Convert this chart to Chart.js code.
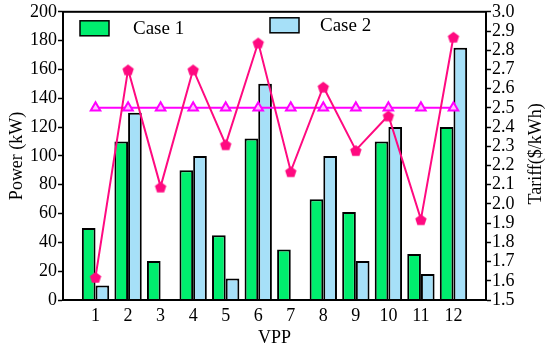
<!DOCTYPE html>
<html>
<head>
<meta charset="utf-8">
<script src="https://cdn.jsdelivr.net/npm/chart.js@4/dist/chart.umd.min.js"></script>
<style>
  html, body { margin: 0; padding: 0; background: #fff; }
  #wrap { width: 550px; height: 351px; position: relative; }
</style>
</head>
<body>
<div id="wrap"><canvas id="chart"></canvas></div>
<script>
// VPP 1..12, padded with empty slots at each end
const vppLabels = ['', '1', '2', '3', '4', '5', '6', '7', '8', '9', '10', '11', '12', ''];
const case1Power = [null, 50, 110, 27, 90, 45, 112, 35, 70, 61, 110, 32, 120, null];
const case2Power = [null, 10, 130, 0, 100, 15, 150, 0, 100, 27, 120, 18, 175, null];
const tariffVPP  = [null, 1.62, 2.70, 2.09, 2.70, 2.31, 2.84, 2.17, 2.61, 2.28, 2.46, 1.92, 2.87, null];
const tariffFlat = [null, 2.5, 2.5, 2.5, 2.5, 2.5, 2.5, 2.5, 2.5, 2.5, 2.5, 2.5, 2.5, null];
const powerTicks = [0, 200, 20];
const tariffTicks = [1.5, 3.0, 0.1];

const FONT = 'Liberation Serif, DejaVu Serif, serif';
const GREEN = '#00ee6e';
const BLUE = '#a6e0f8';
const PINK = '#ff0a80';
const MAGENTA = '#ff00ff';

// pentagon marker (Chart.js has no built-in one)
function pentagon(color, r) {
    const c = document.createElement('canvas');
    const s = r * 2 + 2;
    c.width = s; c.height = s;
    const g = c.getContext('2d');
    g.fillStyle = color;
    g.beginPath();
    for (let i = 0; i < 5; i++) {
        const a = -Math.PI / 2 + i * 2 * Math.PI / 5;
        const x = s / 2 + r * Math.cos(a);
        const y = s / 2 + 1 + r * Math.sin(a);
        i === 0 ? g.moveTo(x, y) : g.lineTo(x, y);
    }
    g.closePath();
    g.fill();
    return c;
}

// frame, legend boxes, right-hand title
const decor = {
    id: 'decor',
    afterDraw(chart) {
        const { ctx, chartArea: a } = chart;
        ctx.save();
        ctx.strokeStyle = '#000';
        ctx.lineWidth = 2;
        ctx.strokeRect(a.left, a.top, a.right - a.left, a.bottom - a.top);

        const items = [
            { label: 'Case 1', color: GREEN, x: a.left + 17, y: a.top + 9, tx: a.left + 70 },
            { label: 'Case 2', color: BLUE, x: a.left + 207, y: a.top + 6, tx: a.left + 257 }
        ];
        ctx.font = '19px ' + FONT;
        ctx.textBaseline = 'middle';
        ctx.fillStyle = '#000';
        items.forEach(it => {
            ctx.fillStyle = it.color;
            ctx.fillRect(it.x, it.y, 29, 15);
            ctx.lineWidth = 1.5;
            ctx.strokeRect(it.x, it.y, 29, 15);
            ctx.fillStyle = '#000';
            ctx.fillText(it.label, it.tx, it.y + 8);
        });

        ctx.translate(536, (a.top + a.bottom) / 2 - 2);
        ctx.rotate(-Math.PI / 2);
        ctx.textAlign = 'center';
        ctx.font = '18px ' + FONT;
        ctx.fillText('Tariff($/kWh)', 0, 0);
        ctx.restore();
    }
};

new Chart(document.getElementById('chart'), {
    data: {
        labels: vppLabels,
        datasets: [
            {
                type: 'line',
                label: 'Tariff',
                data: tariffVPP,
                yAxisID: 'y2',
                borderColor: PINK,
                borderWidth: 2,
                pointStyle: pentagon(PINK, 6),
                pointRadius: 6,
                tension: 0,
                order: 0
            },
            {
                type: 'line',
                label: 'Flat tariff',
                data: tariffFlat,
                yAxisID: 'y2',
                borderColor: MAGENTA,
                borderWidth: 2,
                pointStyle: 'triangle',
                pointRadius: 5.5,
                pointBackgroundColor: '#ffc0ff',
                pointBorderColor: MAGENTA,
                pointBorderWidth: 2,
                tension: 0,
                order: 1
            },
            {
                type: 'bar',
                label: 'Case 1',
                data: case1Power,
                backgroundColor: GREEN,
                borderColor: '#000',
                borderWidth: 2,
                borderSkipped: 'bottom',
                categoryPercentage: 0.84,
                barPercentage: 1,
                order: 2
            },
            {
                type: 'bar',
                label: 'Case 2',
                data: case2Power,
                backgroundColor: BLUE,
                borderColor: '#000',
                borderWidth: 2,
                borderSkipped: 'bottom',
                categoryPercentage: 0.84,
                barPercentage: 1,
                order: 2
            }
        ]
    },
    options: {
        responsive: true,
        maintainAspectRatio: false,
        animation: false,
        layout: { padding: { top: 11, right: 0, left: 0, bottom: 0 } },
        plugins: {
            legend: { display: false },
            tooltip: { enabled: false }
        },
        scales: {
            x: {
                offset: false,
                grid: { display: false },
                border: { display: true, color: '#000', width: 2 },
                ticks: {
                    color: '#000', font: { family: FONT, size: 18 },
                    padding: -3, maxRotation: 0, autoSkip: false
                },
                title: {
                    display: true, text: 'VPP', color: '#000',
                    font: { family: FONT, size: 18 }, padding: { top: 0, bottom: 2 }
                },
                afterFit(s) { s.height = 51; }
            },
            y: {
                position: 'left',
                min: powerTicks[0], max: powerTicks[1],
                grid: { drawOnChartArea: false, drawTicks: true, tickLength: 5, color: '#000', tickWidth: 1.5 },
                border: { display: true, color: '#000', width: 2 },
                ticks: {
                    stepSize: powerTicks[2], color: '#000', padding: 1, autoSkip: false,
                    font: { family: FONT, size: 18 }
                },
                title: {
                    display: true, text: 'Power (kW)', color: '#000',
                    font: { family: FONT, size: 18 }, padding: { top: 6, bottom: 0 }
                },
                afterFit(s) { s.width = 63; }
            },
            y2: {
                position: 'right',
                min: tariffTicks[0], max: tariffTicks[1],
                grid: { drawOnChartArea: false, drawTicks: true, tickLength: 5, color: '#000', tickWidth: 1.5 },
                border: { display: true, color: '#000', width: 2 },
                ticks: {
                    stepSize: tariffTicks[2], color: '#000', padding: 1, autoSkip: false,
                    font: { family: FONT, size: 18 },
                    callback: v => v.toFixed(1)
                },
                afterFit(s) { s.width = 64; }
            }
        }
    },
    plugins: [decor]
});
</script>
</body>
</html>
